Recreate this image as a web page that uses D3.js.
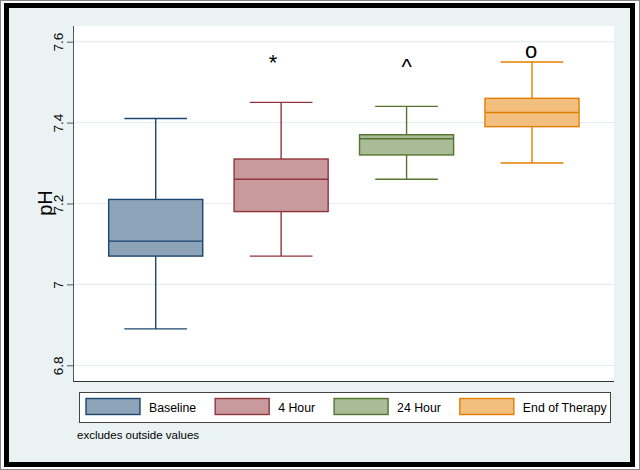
<!DOCTYPE html>
<html><head><meta charset="utf-8">
<script src="https://cdn.jsdelivr.net/npm/d3@7"></script>
<style>body{margin:0;background:#fff}svg{display:block}</style>
</head><body>
<svg id="c" width="640" height="470"></svg>
<script>
const categories = ["Baseline", "4 Hour", "24 Hour", "End of Therapy"];
const lowerWhisker = [6.89, 7.07, 7.26, 7.30];
const q1 = [7.07, 7.18, 7.32, 7.39];
const median = [7.107, 7.26, 7.36, 7.425];
const q3 = [7.21, 7.31, 7.37, 7.46];
const upperWhisker = [7.41, 7.45, 7.44, 7.55];
const markers = ["", "*", "^", "o"];
const markerValue = [null, 7.53, 7.521, 7.56];
const yTicks = [6.8, 7, 7.2, 7.4, 7.6];
const yTickLabels = ["6.8", "7", "7.2", "7.4", "7.6"];
const lineColors = ["#1a476f", "#90353b", "#55752f", "#e37e00"];
const fillColors = ["#8ca3b8", "#c89a9d", "#aabb97", "#f2bf7f"];

const font = "'Liberation Sans', Arial, sans-serif";
const svg = d3.select("#c");
const W = 640, H = 470;
const plot = {left: 73, right: 614, top: 26, bottom: 382};
const markerShift = [0, -8, 0, -1];

svg.append("rect").attr("width", W).attr("height", H).attr("fill", "#fff");
svg.append("rect").attr("x", 6).attr("y", 5).attr("width", 627).attr("height", 460).attr("fill", "#eaf2f3");
svg.append("rect").attr("x", 6.5).attr("y", 5.5).attr("width", 626).attr("height", 459)
  .attr("fill", "none").attr("stroke", "#000").attr("stroke-width", 5);
svg.append("rect").attr("x", 0.5).attr("y", 0.5).attr("width", 639).attr("height", 469)
  .attr("fill", "none").attr("stroke", "#888").attr("stroke-width", 1);

const y = d3.scaleLinear().domain([6.8, 7.6]).range([365.3, 41.7]);
const x = d3.scalePoint().domain(categories).range([155.7, 532]);
const step = x.step();
const boxW = step * 0.75, capW = step * 0.5;

svg.append("rect").attr("x", plot.left).attr("y", plot.top)
  .attr("width", plot.right - plot.left).attr("height", plot.bottom - plot.top).attr("fill", "#fff");

// gridlines
svg.append("g").selectAll("line").data(yTicks).join("line")
  .attr("x1", plot.left).attr("x2", plot.right)
  .attr("y1", d => y(d)).attr("y2", d => y(d))
  .attr("stroke", "#e6eff0").attr("stroke-width", 1.2);

// y axis
const ax = svg.append("g").attr("transform", `translate(${plot.left},0)`)
  .call(d3.axisLeft(y).tickValues(yTicks).tickSize(6).tickFormat((d, i) => yTickLabels[i]));
ax.select(".domain").remove();
ax.selectAll(".tick line").attr("stroke", "#555");
ax.selectAll(".tick text")
  .attr("x", 0).attr("dy", 0).attr("y", -10)
  .attr("transform", "rotate(-90)")
  .attr("text-anchor", "middle")
  .attr("font-family", font).attr("font-size", 13.5).attr("fill", "#000");
svg.append("line").attr("x1", plot.left + 0.5).attr("x2", plot.left + 0.5)
  .attr("y1", plot.top).attr("y2", plot.bottom).attr("stroke", "#555");
svg.append("line").attr("x1", plot.left).attr("x2", plot.right)
  .attr("y1", plot.bottom - 0.5).attr("y2", plot.bottom - 0.5).attr("stroke", "#333");

svg.append("text").attr("transform", "translate(52,203) rotate(-90)")
  .attr("text-anchor", "middle").attr("font-family", font).attr("font-size", 20)
  .text("pH");

// boxes
const boxes = svg.append("g").selectAll("g").data(categories).join("g");
boxes.each(function(c, i) {
  const g = d3.select(this), cx = x(c), col = lineColors[i];
  const sw = 1.4;
  g.append("line").attr("x1", cx).attr("x2", cx).attr("y1", y(upperWhisker[i])).attr("y2", y(q3[i]))
    .attr("stroke", col).attr("stroke-width", sw);
  g.append("line").attr("x1", cx).attr("x2", cx).attr("y1", y(q1[i])).attr("y2", y(lowerWhisker[i]))
    .attr("stroke", col).attr("stroke-width", sw);
  [upperWhisker[i], lowerWhisker[i]].forEach(v => {
    g.append("line").attr("x1", cx - capW / 2).attr("x2", cx + capW / 2)
      .attr("y1", y(v)).attr("y2", y(v)).attr("stroke", col).attr("stroke-width", sw);
  });
  g.append("rect").attr("x", cx - boxW / 2).attr("y", y(q3[i]))
    .attr("width", boxW).attr("height", y(q1[i]) - y(q3[i]))
    .attr("fill", fillColors[i]).attr("stroke", col).attr("stroke-width", sw);
  g.append("line").attr("x1", cx - boxW / 2).attr("x2", cx + boxW / 2)
    .attr("y1", y(median[i])).attr("y2", y(median[i])).attr("stroke", col).attr("stroke-width", sw);
  if (markers[i]) {
    g.append("text").attr("x", cx + markerShift[i]).attr("y", y(markerValue[i]))
      .attr("text-anchor", "middle").attr("font-family", font).attr("font-size", 22)
      .text(markers[i]);
  }
});

// legend
const leg = svg.append("g");
leg.append("rect").attr("x", 79.5).attr("y", 392.5).attr("width", 531).attr("height", 30)
  .attr("fill", "#fff").attr("stroke", "#444").attr("stroke-width", 1);
let lx = 86;
categories.forEach((c, i) => {
  leg.append("rect").attr("x", lx).attr("y", 398.5).attr("width", 54).attr("height", 16)
    .attr("fill", fillColors[i]).attr("stroke", lineColors[i]).attr("stroke-width", 1.4);
  const t = leg.append("text").attr("x", lx + 63).attr("y", 411.5)
    .attr("font-family", font).attr("font-size", 12.3).text(c);
  lx = lx + 63 + t.node().getComputedTextLength() + 19;
});

svg.append("text").attr("x", 77).attr("y", 438.5).attr("font-family", font)
  .attr("font-size", 11.5).text("excludes outside values");
</script>
</body></html>
